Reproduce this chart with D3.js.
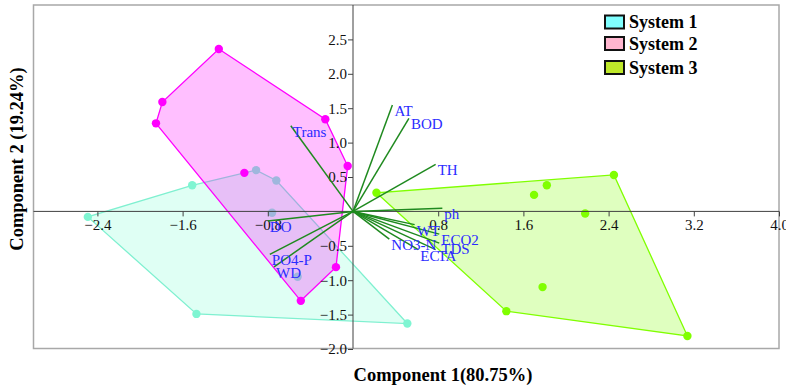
<!DOCTYPE html>
<html><head><meta charset="utf-8">
<script src="https://cdn.jsdelivr.net/npm/d3@7"></script>
<style>html,body{margin:0;padding:0;background:#fff;}</style>
</head><body>
<svg id="chart" width="786" height="385"></svg>
<script>
// ---- data ----
const groupNames = ["System 1", "System 2", "System 3"];
const system1 = [[-2.49,-0.08],[-1.51,0.38],[-0.91,0.60],[-0.72,0.45],[-0.76,-0.02],[-0.52,-0.95],[-1.47,-1.49],[0.51,-1.63]];
const system2 = [[-1.26,2.36],[-1.79,1.59],[-1.85,1.28],[-0.26,1.34],[-0.05,0.66],[-1.02,0.56],[-0.16,-0.81],[-0.49,-1.30]];
const system3 = [[0.22,0.27],[2.45,0.53],[1.82,0.38],[1.70,0.24],[2.18,-0.03],[1.78,-1.10],[1.44,-1.45],[3.14,-1.81]];
const loadingNames = ["AT","BOD","TH","Trans","ph","DO","PO4-P","WD","WT","NO3-N","ECO2","TDS","EC","TA"];
const loadingX = [0.370,0.525,0.776,-0.584,0.839,-0.800,-0.781,-0.741,0.579,0.341,0.810,0.810,0.613,0.776];
const loadingY = [1.545,1.352,0.683,1.244,0.044,-0.141,-0.625,-0.805,-0.192,-0.403,-0.330,-0.461,-0.555,-0.555];
const xTicks = [-2.4,-1.6,-0.8,0.8,1.6,2.4,3.2,4.0];
const yTicks = [-2.0,-1.5,-1.0,-0.5,0.5,1.0,1.5,2.0,2.5];
const xTitle = "Component 1(80.75%)";
const yTitle = "Component 2 (19.24%)";

// ---- styles ----
const pointColors = ["#7ff5d2","#ff00ff","#80ff00"];
const strokeColors = ["#7ff0d0","#ff00ff","#80ff00"];
const fillColors = ["rgba(127,255,212,0.25)","rgba(255,0,255,0.25)","rgba(127,255,0,0.25)"];
const legendColors = ["#80ffff","#ffb6cf","#bfe82a"];

const svg = d3.select("#chart");
const L = 33.5, R = 779, T = 5, B = 348.5;
const x = d3.scaleLinear().domain([-3,4]).range([L,R]);
const y = d3.scaleLinear().domain([-2,3]).range([349,T]);

// frame
svg.append("rect").attr("x",L).attr("y",T).attr("width",R-L).attr("height",B-T)
  .attr("fill","#fff").attr("stroke","#a8a8a8").attr("stroke-width",1.5);

// groups: hulls and points
[system1, system2, system3].forEach((pts,i)=>{
  const px = pts.map(d=>[x(d[0]), y(d[1])]);
  const hull = d3.polygonHull(px);
  svg.append("path").attr("d","M"+hull.join("L")+"Z")
    .attr("fill",fillColors[i]).attr("stroke",strokeColors[i]).attr("stroke-width",1.3);
  svg.append("g").selectAll("circle").data(pts).join("circle")
    .attr("cx",d=>x(d[0])).attr("cy",d=>y(d[1])).attr("r",4.2)
    .attr("fill",pointColors[i]);
});

// zero axes
svg.append("line").attr("x1",L).attr("x2",R).attr("y1",y(0)).attr("y2",y(0))
  .attr("stroke","#404040").attr("stroke-width",1);
svg.append("line").attr("x1",x(0)).attr("x2",x(0)).attr("y1",T).attr("y2",B)
  .attr("stroke","#404040").attr("stroke-width",1);

const xAxis = svg.append("g").attr("transform",`translate(0,${y(0)})`)
  .call(d3.axisBottom(x).tickValues(xTicks).tickFormat(d3.format(".1f")).tickSize(5).tickPadding(3));
const yAxis = svg.append("g").attr("transform",`translate(${x(0)},0)`)
  .call(d3.axisLeft(y).tickValues(yTicks).tickFormat(d3.format(".1f")).tickSize(5).tickPadding(1));
[xAxis,yAxis].forEach(a=>{
  a.select(".domain").remove();
  a.selectAll("line").attr("stroke","#404040");
  a.selectAll("text").attr("font-family","'Liberation Serif', serif").attr("font-size",15).attr("fill","#111");
});

// loading vectors
const vec = loadingNames.map((n,i)=>({name:n, x:loadingX[i], y:loadingY[i]}));
svg.append("g").selectAll("line").data(vec).join("line")
  .attr("x1",x(0)).attr("y1",y(0)).attr("x2",d=>x(d.x)).attr("y2",d=>y(d.y))
  .attr("stroke","#1f8a1f").attr("stroke-width",1.5);
svg.append("g").selectAll("text").data(vec).join("text")
  .attr("x",d=>x(d.x)+2).attr("y",d=>y(d.y)+11)
  .attr("font-family","'Liberation Serif', serif").attr("font-size",15)
  .attr("fill","#2b2bff").text(d=>d.name);

// legend
const lg = svg.append("g");
const rowY = [15.5,37,61];
groupNames.forEach((n,i)=>{
  lg.append("rect").attr("x",605).attr("y",rowY[i]).attr("width",19).attr("height",13)
    .attr("fill",legendColors[i]).attr("stroke","#111").attr("stroke-width",2);
  lg.append("text").attr("x",629).attr("y",rowY[i]+12.5)
    .attr("font-family","'Liberation Serif', serif").attr("font-weight","bold").attr("font-size",18)
    .attr("fill","#000").text(n);
});

// axis titles
svg.append("text").attr("x",443).attr("y",381).attr("text-anchor","middle")
  .attr("font-family","'Liberation Serif', serif").attr("font-weight","bold").attr("font-size",18.5)
  .text(xTitle);
svg.append("text").attr("transform","translate(23,159) rotate(-90)").attr("text-anchor","middle")
  .attr("font-family","'Liberation Serif', serif").attr("font-weight","bold").attr("font-size",18.5)
  .text(yTitle);
</script>
</body></html>
